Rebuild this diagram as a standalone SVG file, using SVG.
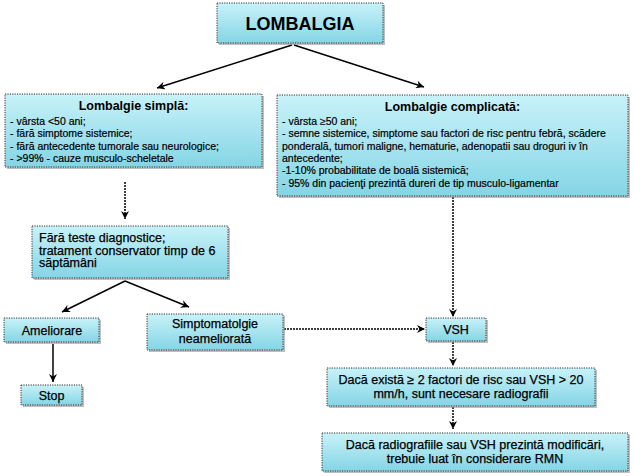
<svg xmlns="http://www.w3.org/2000/svg" width="634" height="476" viewBox="0 0 634 476">
<defs>
<linearGradient id="g" x1="0" y1="0" x2="0" y2="1">
<stop offset="0" stop-color="#c8f2f9"/>
<stop offset="1" stop-color="#84d5e5"/>
</linearGradient>
<marker id="ah" markerUnits="userSpaceOnUse" markerWidth="9" markerHeight="8" refX="8" refY="4" orient="auto">
<path d="M0,0 L8,4 L0,8 L2.5,4 z" fill="#000"/>
</marker>
<style>
.box{fill:url(#g);stroke:#333;stroke-width:1;stroke-dasharray:1.2,1.2}
.sh{fill:#8a8a8a;opacity:0.55}
text{font-family:"Liberation Sans",Arial,sans-serif;fill:#000}
.t{font-size:12.5px;stroke:#000;stroke-width:0.25}
.s{font-size:10.5px;stroke:#000;stroke-width:0.2}
.h{font-size:12.5px;font-weight:bold}
.big{font-size:18px;font-weight:bold}
.c{text-anchor:middle}
.ln{fill:none;stroke:#000;stroke-width:1.5;marker-end:url(#ah)}
.dl{fill:none;stroke:#000;stroke-width:1.5;stroke-dasharray:2,1;marker-end:url(#ah)}
</style>
</defs>

<g id="connectors">
<line class="ln" x1="292" y1="45" x2="157" y2="88"/>
<line class="ln" x1="294" y1="45" x2="424" y2="87"/>
<line class="dl" x1="125" y1="182" x2="125" y2="219"/>
<line class="ln" x1="125" y1="281" x2="62" y2="312"/>
<line class="ln" x1="125" y1="281" x2="189" y2="307"/>
<line class="ln" x1="53" y1="344" x2="53" y2="382"/>
<line class="dl" x1="284" y1="329" x2="425" y2="329"/>
<line class="dl" x1="453" y1="197" x2="453" y2="317"/>
<line class="dl" x1="453" y1="342" x2="453" y2="366"/>
<line class="dl" x1="453" y1="407" x2="453" y2="429"/>
</g>

<g id="lombalgia">
<rect class="sh" x="219" y="5" width="166" height="40"/>
<rect class="box" x="217" y="3" width="166" height="40"/>
<text class="big c" x="300" y="30">LOMBALGIA</text>
</g>

<g id="simpla">
<rect class="sh" x="7" y="96" width="257" height="73"/>
<rect class="box" x="5" y="94" width="257" height="73"/>
<text class="h c" x="133.5" y="110">Lombalgie simplă:</text>
<text class="s" x="10" y="125">- vârsta &lt;50 ani;</text>
<text class="s" x="10" y="137.3">- fără simptome sistemice;</text>
<text class="s" x="10" y="149.6">- fără antecedente tumorale sau neurologice;</text>
<text class="s" x="10" y="162">- &gt;99% - cauze musculo-scheletale</text>
</g>

<g id="complicata">
<rect class="sh" x="279" y="97" width="351" height="101"/>
<rect class="box" x="277" y="95" width="351" height="101"/>
<text class="h c" x="452.5" y="111">Lombalgie complicată:</text>
<text class="s" x="282" y="125">- vârsta ≥50 ani;</text>
<text class="s" x="282" y="137.3">- semne sistemice, simptome sau factori de risc pentru febră, scădere</text>
<text class="s" x="282" y="149.6">ponderală, tumori maligne, hematurie, adenopatii sau droguri iv în</text>
<text class="s" x="282" y="162">antecedente;</text>
<text class="s" x="282" y="174.3">-1-10% probabilitate de boală sistemică;</text>
<text class="s" x="282" y="186.6">- 95% din pacienţi prezintă dureri de tip musculo-ligamentar</text>
</g>

<g id="fara-teste">
<rect class="sh" x="34" y="228" width="196" height="52"/>
<rect class="box" x="32" y="226" width="196" height="52"/>
<text class="t" x="39" y="242">Fără teste diagnostice;</text>
<text class="t" x="39" y="254.5">tratament conservator timp de 6</text>
<text class="t" x="39" y="267">săptămâni</text>
</g>

<g id="ameliorare">
<rect class="sh" x="6" y="320" width="95" height="24"/>
<rect class="box" x="4" y="318" width="95" height="24"/>
<text class="t c" x="52" y="335">Ameliorare</text>
</g>

<g id="stop">
<rect class="sh" x="23" y="387" width="61" height="20"/>
<rect class="box" x="21" y="385" width="61" height="20"/>
<text class="t c" x="51.5" y="400">Stop</text>
</g>

<g id="simptomatologie">
<rect class="sh" x="149" y="316" width="136" height="36"/>
<rect class="box" x="147" y="314" width="136" height="36"/>
<text class="t c" x="215" y="328">Simptomatolgie</text>
<text class="t c" x="215" y="343">neameliorată</text>
</g>

<g id="vsh">
<rect class="sh" x="428" y="320" width="60" height="23"/>
<rect class="box" x="426" y="318" width="60" height="23"/>
<text class="t c" x="456" y="334">VSH</text>
</g>

<g id="radiografii">
<rect class="sh" x="329" y="370" width="268" height="38"/>
<rect class="box" x="327" y="368" width="268" height="38"/>
<text class="t c" x="461" y="384">Dacă există ≥ 2 factori de risc sau VSH &gt; 20</text>
<text class="t c" x="461" y="398">mm/h, sunt necesare radiografii</text>
</g>

<g id="rmn">
<rect class="sh" x="324" y="435" width="306" height="38"/>
<rect class="box" x="322" y="433" width="306" height="38"/>
<text class="t c" x="475" y="449">Dacă radiografiile sau VSH prezintă modificări,</text>
<text class="t c" x="475" y="463">trebuie luat în considerare RMN</text>
</g>
</svg>
